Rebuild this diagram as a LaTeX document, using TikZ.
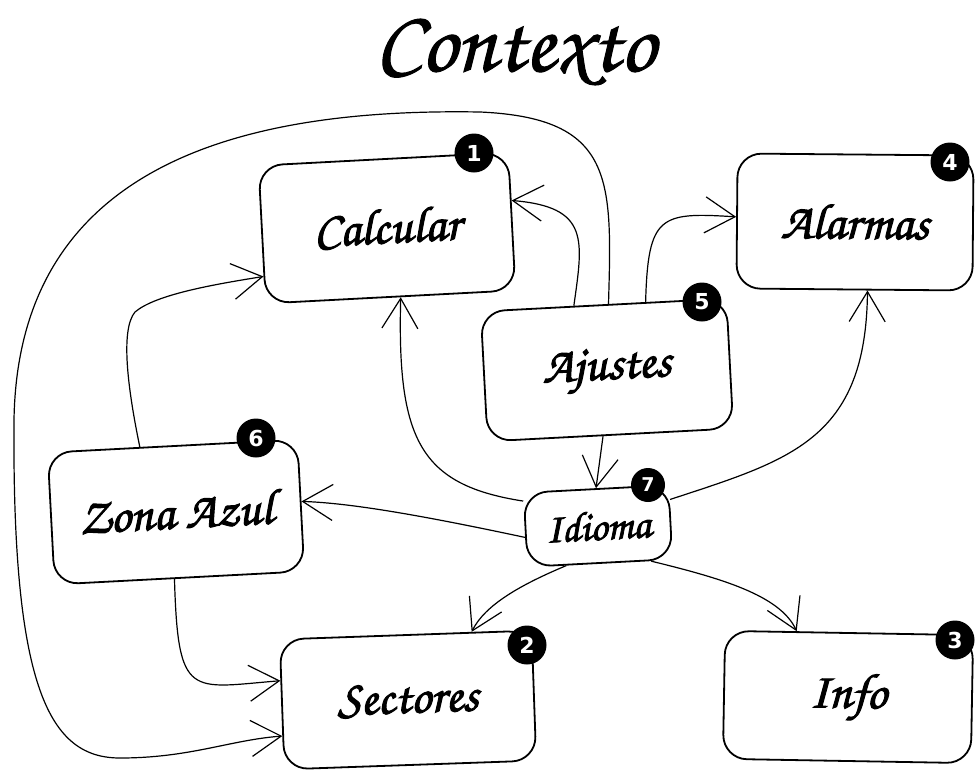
\documentclass[tikz,border=0pt]{standalone}
\usepackage{fontspec}
\newfontfamily\hand[FakeBold=2]{TeX Gyre Chorus}
\newfontfamily\titlehand[FakeBold=1.2]{TeX Gyre Chorus}
\newfontfamily\badgefont{DejaVu Sans}
\usetikzlibrary{arrows.meta,calc}

\begin{document}
\begin{tikzpicture}[x=1pt,y=-1pt,
  box/.style={draw, line width=1.8pt, rounded corners=24pt, inner sep=0pt,
    font=\hand\fontsize{50}{50}\selectfont},
  badge/.style={circle, fill=black, text=white, inner sep=0pt, minimum size=39pt,
    font=\badgefont\bfseries\fontsize{22}{22}\selectfont},
  link/.style={line width=1.2pt, -{Straight Barb[length=30pt,width=36pt,line width=1.2pt]}},
]
\fill[white] (0,0) rectangle (975,769);
\useasboundingbox (0,0) rectangle (975,769);

% title
\node[font=\titlehand\fontsize{88}{88}\selectfont] (title) at (515,52) {Contexto};

% boxes
\node[box, minimum width=250pt, minimum height=138pt, rotate=3] (calc) at (387,228) {Calcular};
\node[box, minimum width=236pt, minimum height=135pt, rotate=-0.5] (alarm) at (855,222) {Alarmas};
\node[box, minimum width=246pt, minimum height=130pt, rotate=3] (ajustes) at (607,370) {Ajustes};
\node[box, minimum width=250pt, minimum height=132pt, rotate=3] (zona) at (176,512) {Zona Azul};
\node[box, minimum width=145pt, minimum height=74pt, rotate=3,
      font=\hand\fontsize{42}{42}\selectfont] (idioma) at (598,526) {Idioma};
\node[box, minimum width=252pt, minimum height=130pt, rotate=2] (sect) at (408,700) {Sectores};
\node[box, minimum width=248pt, minimum height=128pt, rotate=-1] (info) at (848,697) {Info};

% connectors
\draw[link] ($(ajustes.north west)!0.52!(ajustes.north east)$)
  .. controls (612,180) and (615,118) .. (480,112)
  .. controls (250,108) and (18,160) .. (14,420)
  .. controls (12,690) and (50,758) .. (120,758)
  .. controls (190,758) and (230,740) .. ($(sect.north west)!0.74!(sect.south west)$);
\draw[link] ($(ajustes.north west)!0.38!(ajustes.north east)$)
  .. controls (583,240) and (590,207) .. ($(calc.north east)!0.35!(calc.south east)$);
\draw[link] ($(ajustes.north west)!0.67!(ajustes.north east)$)
  .. controls (648,215) and (660,212) .. ($(alarm.north west)!0.47!(alarm.south west)$);
\draw[link] ($(ajustes.south west)!0.47!(ajustes.south east)$) -- ($(idioma.north west)!0.5!(idioma.north east)$);
\draw[link] ($(idioma.north east)!0.2!(idioma.south east)$)
  .. controls (790,460) and (866,440) .. ($(alarm.south west)!0.555!(alarm.south east)$);
\draw[link] ($(idioma.north west)!0.12!(idioma.south west)$)
  .. controls (420,485) and (397,440) .. ($(calc.south west)!0.54!(calc.south east)$);
\draw[link] ($(idioma.north west)!0.6!(idioma.south west)$)
  .. controls (420,515) and (350,503) .. ($(zona.north east)!0.47!(zona.south east)$);
\draw[link] ($(idioma.south west)!0.27!(idioma.south east)$)
  .. controls (520,585) and (485,605) .. ($(sect.north west)!0.76!(sect.north east)$);
\draw[link] ($(idioma.south west)!0.85!(idioma.south east)$)
  .. controls (720,578) and (780,595) .. ($(info.north west)!0.29!(info.north east)$);
\draw[link] ($(zona.north west)!0.37!(zona.north east)$)
  .. controls (128,390) and (120,330) .. (135,312)
  .. controls (155,295) and (210,285) .. ($(calc.north west)!0.8!(calc.south west)$);
\draw[link] ($(zona.south west)!0.48!(zona.south east)$)
  .. controls (178,700) and (190,688) .. ($(sect.north west)!0.32!(sect.south west)$);

% numbered badges
\node[badge] (b1) at (474,153) {1};
\node[badge] (b2) at (527,645) {2};
\node[badge] (b3) at (955,640) {3};
\node[badge] (b4) at (950,162) {4};
\node[badge] (b5) at (702,302) {5};
\node[badge] (b6) at (256,438) {6};
\node[badge, minimum size=34pt, font=\badgefont\bfseries\fontsize{19}{19}\selectfont] (b7) at (648,485) {7};
\end{tikzpicture}
\end{document}
